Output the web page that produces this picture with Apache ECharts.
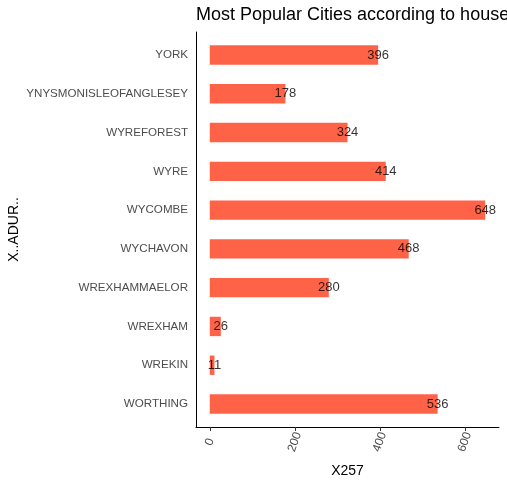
<!DOCTYPE html>
<html><head><meta charset="utf-8">
<script src="https://cdn.jsdelivr.net/npm/echarts@6/dist/echarts.min.js"></script>
<style>html,body{margin:0;padding:0;background:#fff}#c{width:507px;height:484px}</style>
</head><body><div id="c"></div>
<script>
const categories = ["WORTHING","WREKIN","WREXHAM","WREXHAMMAELOR","WYCHAVON","WYCOMBE","WYRE","WYREFOREST","YNYSMONISLEOFANGLESEY","YORK"];
const values = [536, 11, 26, 280, 468, 648, 414, 324, 178, 396];
const xTicks = [0, 200, 400, 600];

const chart = echarts.init(document.getElementById('c'), null, {renderer:'canvas'});
const font = 'Liberation Sans, Arial, sans-serif';
const xMin = -32.4, xMax = 680.4;
chart.setOption({
  animation:false,
  title:{text:'Most Popular Cities according to house', left:196, top:6, padding:0,
    textStyle:{fontFamily:font, fontSize:18, fontWeight:'normal', color:'#000'}},
  grid:[
    {left:196, right:8, top:35.6, bottom:60.6, outerBoundsMode:'none', containLabel:false},
    {left:196, right:8, top:32, bottom:57, outerBoundsMode:'none', containLabel:false}
  ],
  xAxis:[
    {gridIndex:0, type:'value', min:xMin, max:xMax, show:false},
    {gridIndex:1, type:'value', min:xMin, max:xMax, interval:200,
    name:'X257', nameLocation:'middle', nameGap:37, nameMoveOverlap:false,
    nameTextStyle:{fontFamily:font, fontSize:14, color:'#000'},
    axisLine:{show:true, onZero:false, lineStyle:{color:'#000', width:1}},
    axisTick:{show:true, length:4, lineStyle:{color:'#333'}, customValues:xTicks},
    axisLabel:{fontFamily:font, fontSize:12, color:'#4D4D4D', rotate:70, align:'center', verticalAlign:'middle', margin:15, padding:[5,0,0,0], customValues:xTicks},
    splitLine:{show:false}}
  ],
  yAxis:[
    {gridIndex:0, type:'category', data:categories,
    axisLine:{show:false},
    axisTick:{alignWithLabel:true, length:4, lineStyle:{color:'#333'}},
    axisLabel:{fontFamily:font, fontSize:11.6, color:'#4D4D4D', margin:8}},
    {gridIndex:1, type:'value', min:0, max:1,
    name:'X..ADUR..', nameLocation:'middle', nameGap:175, nameMoveOverlap:false,
    nameTextStyle:{fontFamily:font, fontSize:14, color:'#000'},
    axisLine:{show:true, onZero:false, lineStyle:{color:'#000', width:1}},
    axisTick:{show:false}, axisLabel:{show:false}, splitLine:{show:false}}
  ],
  series:[
    {type:'bar', xAxisIndex:0, yAxisIndex:0, data:values, barWidth:'50%', itemStyle:{color:'#FF6347'}},
    {type:'scatter', xAxisIndex:0, yAxisIndex:0, data:values, symbolSize:0,
      label:{show:true, position:'inside', fontFamily:font, fontSize:13, color:'#000',
        formatter:p=>String(p.value)}}
  ]
});
</script></body></html>
